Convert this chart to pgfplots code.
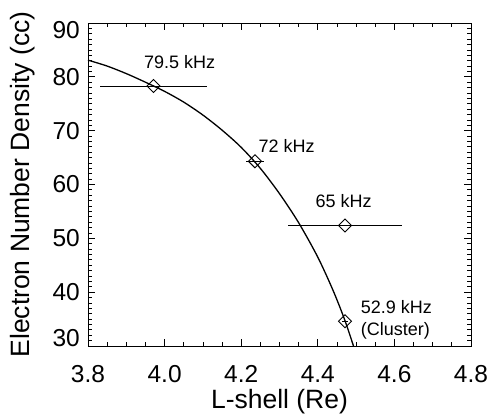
\documentclass[border=0pt]{standalone}
\usepackage{fontspec}
\setmainfont{Liberation Sans}
\usepackage{pgfplots}
\usepackage{pgfplotstable}
\pgfplotsset{compat=1.18}

% measured densities with their L-shell ranges
\pgfplotstableread{
L      n     ex
3.971  78.3  0.140
4.236  64.3  0.024
4.471  52.4  0.150
4.471  34.6  0.008
}\points

% model curve
\pgfplotstableread{
L      n
3.800  83.1
3.850  82.0
3.900  80.6
3.950  79.0
4.000  77.3
4.050  75.3
4.100  72.9
4.150  70.1
4.200  66.9
4.250  63.0
4.300  58.3
4.350  52.9
4.400  46.5
4.440  40.3
4.470  34.9
4.495  29.6
}\curve

\begin{document}
\begin{tikzpicture}
\path[use as bounding box] (-88pt,-72pt) rectangle (404pt,346pt);
\begin{axis}[
    at={(0pt,0pt)}, anchor=south west,
    scale only axis,
    width=383pt, height=323pt,
    xmin=3.8, xmax=4.8, ymin=30, ymax=90,
    xtick={3.8,4.0,4.2,4.4,4.6,4.8},
    xticklabels={3.8,4.0,4.2,4.4,4.6,4.8},
    ytick={30,40,50,60,70,80,90},
    yticklabels={\raisebox{8pt}[\height][\depth]{30},40,50,60,70,80,\raisebox{-7pt}[\height][\depth]{90}},
    minor x tick num=3,
    minor y tick num=9,
    tick align=inside,
    major tick length=7pt,
    minor tick length=4pt,
    every tick/.style={black, line width=0.8pt},
    axis line style={line width=0.9pt},
    tick label style={font=\fontsize{24.5}{24.5}\selectfont, inner sep=0pt},
    xticklabel style={anchor=north, yshift=-19pt},
    yticklabel style={anchor=east, xshift=-8pt},
    xlabel={L-shell (Re)},
    ylabel={Electron Number Density (cc)},
    xlabel style={font=\fontsize{26.5}{26.5}\selectfont, at={(rel axis cs:0.5,0)}, anchor=base, yshift=-62pt},
    every axis y label/.style={font=\fontsize{26.5}{26.5}\selectfont, inner sep=0pt,
        at={(rel axis cs:0,0.5)}, xshift=-58pt, rotate=90, anchor=base},
    clip=true,
]
\addplot[only marks, mark=square, mark size=4.6pt,
    mark options={rotate=45, fill=white, draw=black, line width=0.9pt},
    error bars/.cd, x dir=both, x explicit, error mark=none,
    error bar style={line width=0.9pt, black}]
    table[x=L, y=n, x error=ex] {\points};
\addplot[smooth, black, line width=1.3pt] table[x=L, y=n] {\curve};

\node[anchor=base west, font=\fontsize{18}{18}\selectfont, inner sep=0pt] at (axis cs:3.946,81.46) {79.5 kHz};
\node[anchor=base west, font=\fontsize{18}{18}\selectfont, inner sep=0pt] at (axis cs:4.245,66.0) {72 kHz};
\node[anchor=base west, font=\fontsize{18}{18}\selectfont, inner sep=0pt] at (axis cs:4.394,55.8) {65 kHz};
\node[anchor=base west, font=\fontsize{18}{18}\selectfont, inner sep=0pt] at (axis cs:4.512,36.1) {52.9 kHz};
\node[anchor=base west, font=\fontsize{18}{18}\selectfont, inner sep=0pt] at (axis cs:4.512,31.9) {(Cluster)};
\end{axis}
\end{tikzpicture}
\end{document}
